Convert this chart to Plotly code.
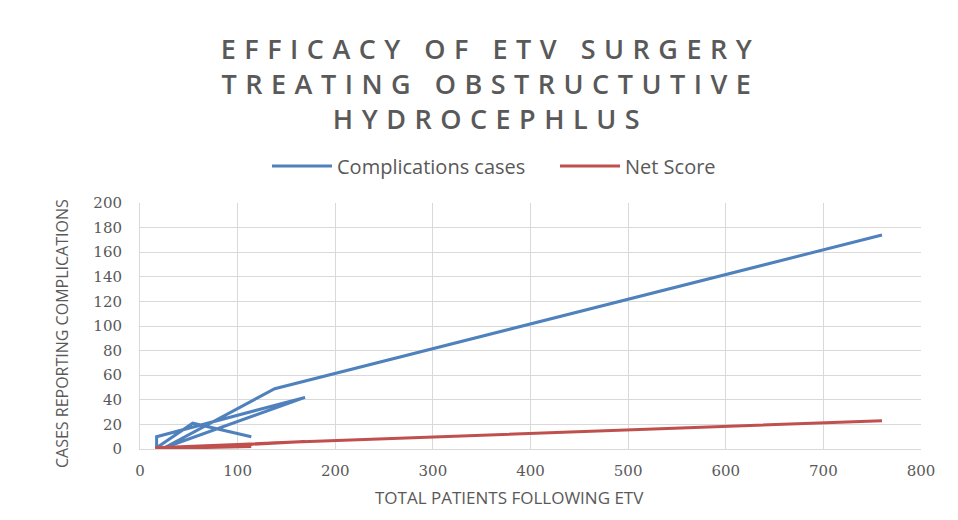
import plotly.graph_objects as go

# Data (in plotted order)
total_patients = [760, 138, 25, 169, 17, 17, 54, 114]
complications = [174, 49, 1, 42, 10, 1, 21, 10]
net_score = [23, 5, 0, 6, 1, 0, 1, 2]

x_ticks = [0, 100, 200, 300, 400, 500, 600, 700, 800]
y_ticks = [0, 20, 40, 60, 80, 100, 120, 140, 160, 180, 200]

title_text = "EFFICACY OF ETV SURGERY<br>TREATING OBSTRUCTUTIVE<br>HYDROCEPHLUS"

W, H = 958, 520
OFF = 8  # page body margin
# target plot area in window pixels: x 140..921, y 203..449
L, T = 140 - OFF, 203 - OFF
R, B = W - (921 - OFF), H - (449 - OFF)
PW, PH = W - L - R, H - T - B


def px_x(px):
    return (px - OFF - L) / PW


def px_y(py):
    return 1 - (py - OFF - T) / PH


fig = go.Figure()
fig.add_trace(go.Scatter(x=total_patients, y=complications, mode="lines",
                         name="Complications cases",
                         line=dict(color="#4F81BD", width=3)))
fig.add_trace(go.Scatter(x=total_patients, y=net_score, mode="lines",
                         name="Net Score",
                         line=dict(color="#C0504D", width=3)))

grey = "#595959"
label_font = "Liberation Sans Narrow, Open Sans, sans-serif"
fig.update_layout(
    width=W, height=H,
    margin=dict(l=L, r=R, t=T, b=B, autoexpand=False),
    paper_bgcolor="white", plot_bgcolor="white",
    legend=dict(orientation="h", x=px_x(555), xanchor="center",
                y=px_y(166), yanchor="middle",
                font=dict(family=label_font, size=20, color=grey),
                itemwidth=60, entrywidth=213),
    showlegend=True,
    annotations=[
        dict(text=title_text, xref="paper", yref="paper",
             x=px_x(490), y=px_y(83), xanchor="center", yanchor="middle",
             showarrow=False,
             font=dict(family="Open Sans, DejaVu Sans, sans-serif", size=27,
                       weight=600, color=grey)),
        dict(text="TOTAL PATIENTS FOLLOWING ETV", xref="paper", yref="paper",
             x=px_x(509), y=px_y(497), xanchor="center", yanchor="middle",
             showarrow=False, font=dict(family=label_font, size=17, color=grey)),
        dict(text="CASES REPORTING COMPLICATIONS", xref="paper", yref="paper",
             x=px_x(62), y=px_y(334), xanchor="center", yanchor="middle",
             textangle=-90, showarrow=False,
             font=dict(family=label_font, size=16, color=grey)),
    ],
)
fig.update_xaxes(range=[0, 800], tickvals=x_ticks, ticktext=[str(v) for v in x_ticks],
                 showgrid=True, gridcolor="#D9D9D9", gridwidth=1,
                 showline=True, linecolor="#D9D9D9", zeroline=False,
                 ticks="", ticklen=0, tickangle=0, automargin=False,
                 ticklabelstandoff=8,
                 tickfont=dict(family="DejaVu Serif, Liberation Serif, serif", size=15, color=grey))
fig.update_yaxes(range=[0, 200], tickvals=y_ticks, ticktext=[str(v) for v in y_ticks],
                 showgrid=True, gridcolor="#D9D9D9", gridwidth=1,
                 showline=True, linecolor="#D9D9D9", zeroline=False,
                 ticks="", ticklen=0, automargin=False,
                 ticklabelstandoff=14,
                 tickfont=dict(family="DejaVu Serif, Liberation Serif, serif", size=15, color=grey))

post = """
document.querySelectorAll('text').forEach(function(t){
  if (t.textContent.indexOf('EFFICACY') === 0) { t.style.letterSpacing = '8.5px'; }
});
"""
fig.write_html("out.html", post_script=post)
